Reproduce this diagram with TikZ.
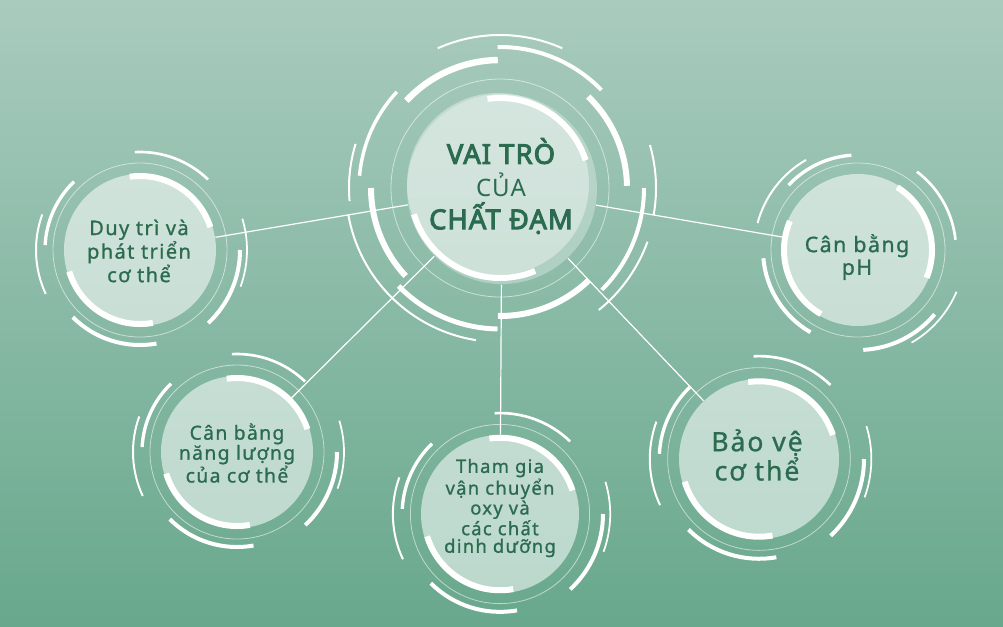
\documentclass[tikz,border=0pt]{standalone}
\usepackage{fontspec}
\setmainfont{Noto Sans}
\newfontfamily\labelfont[FakeBold=1,LetterSpace=7]{Noto Sans}
\newfontfamily\titlefont[FakeBold=3.5,LetterSpace=4]{Noto Sans}
\newfontfamily\thinfont[LetterSpace=4]{Noto Sans}
\definecolor{textgreen}{HTML}{2B6B4F}
\definecolor{bgtop}{HTML}{A9CBBE}
\definecolor{bgbottom}{HTML}{68A88C}

\tikzset{every picture/.style={line width=0.75pt}}
\tikzset{
  disc/.style={circle, fill=white, fill opacity=0.55, draw=none, inner sep=0pt},
  ringline/.style={white, draw opacity=0.55, line width=0.6pt},
  link/.style={white, line width=0.9pt},
  caption/.style={text=textgreen, align=center, inner sep=0.75pt},
}
% one white arc: radius, start, end, width (pt)
\newcommand\ringarc[4]{\draw[white, line width=#4pt] (#2:#1) arc[start angle=#2, end angle=#3, radius=#1];}
% arcs round a small circle: x, y, scale, rotation
\newcommand\satrings[4]{%
  \begin{scope}[shift={(#1,#2)}, rotate=#4, scale=#3]
    \ringarc{74}{262}{342}{4.5}
    \ringarc{74}{80}{163}{4.5}
    \draw[ringline] (0,0) circle[radius=87];
    \ringarc{98}{267}{314}{2}
    \ringarc{100}{0}{47}{3}
    \ringarc{107}{343}{380}{1.3}
    \ringarc{95}{183}{226}{2.5}
    \ringarc{104}{155}{200}{1.5}
    \ringarc{95}{80}{135}{3}
  \end{scope}}

\begin{document}
\begin{tikzpicture}[x=0.75pt,y=0.75pt,yscale=-1,xscale=1]
    % background
    \fill[top color=bgtop, bottom color=bgbottom] (0,0) rectangle (1003,626);

    % Circles
    \node[disc, fill opacity=0.3, minimum size=142.5pt] (vaitro) at (502,189) {};
    \node[disc, fill opacity=0.38, minimum size=136.5pt] (vaitrolight) at (498,184) {};
    \node[disc, minimum size=114pt] (duytri) at (140,250) {};
    \node[disc, minimum size=114pt] (canbangph) at (858,250) {};
    \node[disc, minimum size=114pt] (nangluong) at (237,452) {};
    \node[disc, minimum size=118.5pt] (vanchuyen) at (500,514) {};
    \node[disc, minimum size=120pt] (baove) at (759,459) {};

    % Straight Lines
    \draw[link] (vaitro) -- (duytri);
    \draw[link] (vaitro) -- (canbangph);
    \draw[link] (vaitro) -- (nangluong);
    \draw[link] (vaitro) -- (vanchuyen);
    \draw[link] (vaitro) -- (baove);

    % Arcs round the middle circle
    \begin{scope}[shift={(500,188)}]
      \ringarc{90}{262}{342}{4.5}
      \ringarc{90}{67}{163}{4.5}
      \draw[ringline] (0,0) circle[radius=109];
      \ringarc{128}{223}{269}{4.8}
      \ringarc{127}{314}{359}{4.5}
      \ringarc{129}{137}{180}{4.5}
      \ringarc{128}{46}{91}{4.5}
      \ringarc{141}{91}{136}{3.7}
      \ringarc{141}{185}{223}{2.6}
      \ringarc{141}{269}{316}{3}
      \ringarc{144}{0}{45}{3}
      \ringarc{153}{246}{294}{1.5}
      \ringarc{151}{175}{197}{1.5}
      \ringarc{154}{99}{170}{1.5}
      \ringarc{156}{344}{370}{1.5}
      \ringarc{157}{20}{51}{1.5}
    \end{scope}

    % Arcs round the small circles
    \satrings{140}{250}{1}{0}
    \satrings{858}{250}{1}{40}
    \satrings{237}{452}{1}{0}
    \satrings{500}{514}{1.03}{0}
    \satrings{759}{459}{1.05}{0}

    % Text Node
    \node[caption, font=\titlefont\fontsize{20.5}{24.5}\selectfont] (vaitrotext) at (501,186)
      {VAI TRÒ\\{\thinfont\fontsize{18}{24.5}\selectfont CỦA}\\CHẤT ĐẠM};
    % Text Node
    \node[caption, font=\labelfont\fontsize{15}{15}\selectfont] (duytritext) at (139,251) {Duy trì và\\phát triển\\cơ thể};
    % Text Node
    \node[caption, font=\labelfont\fontsize{16}{17}\selectfont] (canbangphtext) at (857,257) {Cân bằng\\pH};
    % Text Node
    \node[caption, font=\labelfont\fontsize{14.5}{15}\selectfont] (nangluongtext) at (237,453) {Cân bằng\\năng lượng\\của cơ thể};
    % Text Node
    \node[caption, font=\labelfont\fontsize{13.8}{13.2}\selectfont] (vanchuyentext) at (500,508) {Tham gia\\vận chuyển\\oxy và\\các chất\\dinh dưỡng};
    % Text Node
    \node[caption, font=\labelfont\fontsize{20}{20.5}\selectfont] (baovetext) at (757,455) {Bảo vệ\\cơ thể};

\end{tikzpicture}
\end{document}
